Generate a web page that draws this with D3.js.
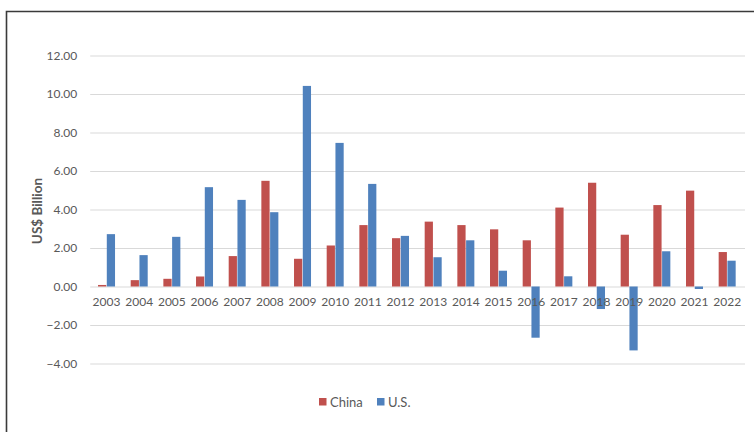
<!DOCTYPE html>
<html>
<head>
<meta charset="utf-8">
<script src="https://cdn.jsdelivr.net/npm/d3@7"></script>
<style>
  html, body { margin: 0; padding: 0; background: #fff; }
  svg { display: block; }
  text { font-family: Lato, "Open Sans", sans-serif; fill: #595959; }
</style>
</head>
<body>
<svg id="chart" width="754" height="432"></svg>
<script>
// Annual direct investment flows, US$ billion
const years = ["2003","2004","2005","2006","2007","2008","2009","2010","2011","2012",
               "2013","2014","2015","2016","2017","2018","2019","2020","2021","2022"];
const china = [0.08, 0.33, 0.40, 0.52, 1.58, 5.49, 1.44, 2.13, 3.19, 2.51,
               3.37, 3.19, 2.97, 2.40, 4.10, 5.39, 2.69, 4.23, 4.98, 1.79];
const us    = [2.72, 1.63, 2.58, 5.16, 4.50, 3.86, 10.42, 7.46, 5.33, 2.63,
               1.52, 2.40, 0.82, -2.66, 0.53, -1.17, -3.32, 1.83, -0.13, 1.34];
const seriesNames = ["China", "U.S."];
const yTicks = [-4, -2, 0, 2, 4, 6, 8, 10, 12];

const colors = { "China": "#c0504d", "U.S.": "#4f81bd" };

const svg = d3.select("#chart");

// outer frame (left and top edges visible)
svg.append("path")
  .attr("d", "M6.5,432 L6.5,11.5 L754,11.5")
  .attr("fill", "none")
  .attr("stroke", "#3a3a3a")
  .attr("stroke-width", 1.6);

const plot = { left: 90.2, right: 743.5, top: 55.5, bottom: 363.5 };

const x = d3.scaleBand()
  .domain(years)
  .range([plot.left, plot.right])
  .paddingInner(0)
  .paddingOuter(0);

const y = d3.scaleLinear()
  .domain([-4, 12])
  .range([plot.bottom, plot.top]);

const inner = d3.scaleBand()
  .domain(seriesNames)
  .range([x.bandwidth() / 2 - 8.5, x.bandwidth() / 2 + 8.5])
  .paddingInner(0.06);

// horizontal gridlines + y tick labels
const yAxis = d3.axisLeft(y)
  .tickValues(yTicks)
  .tickFormat(d3.format(".2f"))
  .tickSize(-(plot.right + 1.5 - plot.left))
  .tickPadding(13);

const gy = svg.append("g")
  .attr("transform", `translate(${plot.left},0)`)
  .call(yAxis);
gy.select(".domain").remove();
gy.selectAll(".tick line").attr("stroke", "#d9d9d9").attr("stroke-width", 1);
gy.selectAll(".tick text")
  .attr("font-size", 12)
  .attr("fill", "#595959")
  .style("font-family", "Lato, 'Open Sans', sans-serif");

// bars
const rows = years.map((yr, i) => ({ year: yr, values: [
  { name: "China", value: china[i] },
  { name: "U.S.", value: us[i] }
]}));

const groups = svg.append("g").selectAll("g")
  .data(rows)
  .join("g")
  .attr("transform", d => `translate(${x(d.year)},0)`);

groups.selectAll("rect")
  .data(d => d.values)
  .join("rect")
  .attr("x", d => inner(d.name))
  .attr("width", inner.bandwidth())
  .attr("y", d => y(Math.max(0, d.value)))
  .attr("height", d => Math.abs(y(d.value) - y(0)))
  .attr("fill", d => colors[d.name]);

// year labels sit just under the zero line
const xAxis = d3.axisBottom(x).tickSize(0).tickPadding(11);
const gx = svg.append("g")
  .attr("transform", `translate(0,${y(0)})`)
  .call(xAxis);
gx.select(".domain").remove();
gx.selectAll(".tick text")
  .attr("font-size", 12)
  .attr("fill", "#595959")
  .style("font-family", "Lato, 'Open Sans', sans-serif");

// y axis title
svg.append("text")
  .attr("transform", "translate(42,211) rotate(-90)")
  .attr("text-anchor", "middle")
  .attr("font-size", 13.5)
  .attr("font-weight", "bold")
  .text("US$ Billion");

// legend
const legend = svg.append("g").attr("transform", "translate(319,398)");
const items = legend.selectAll("g")
  .data(seriesNames)
  .join("g")
  .attr("transform", (d, i) => `translate(${i * 58},0)`);
items.append("rect")
  .attr("width", 7.5).attr("height", 7.5)
  .attr("fill", d => colors[d]);
items.append("text")
  .attr("x", 11)
  .attr("y", 8.5)
  .attr("font-size", 13)
  .text(d => d);
</script>
</body>
</html>
